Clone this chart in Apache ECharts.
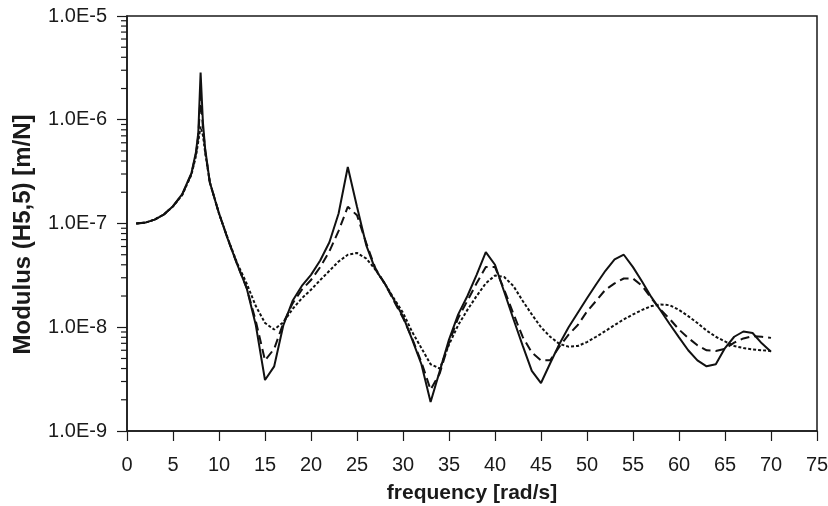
<!DOCTYPE html>
<html><head><meta charset="utf-8">
<script src="https://cdn.jsdelivr.net/npm/echarts@6/dist/echarts.min.js"></script>
<style>html,body{margin:0;padding:0;background:#fff}#c{width:828px;height:506px}</style>
</head><body><div id="c"></div>
<script>
const freq = [1,2,3,4,5,6,7,7.5,7.75,8,8.25,8.5,9,10,11,12,13,14,15,16,17,18,19,20,21,22,23,24,25,26,27,28,29,30,31,32,33,34,35,36,37,38,39,40,41,42,43,44,45,46,47,48,49,50,51,52,53,54,55,56,57,58,59,60,61,62,63,64,65,66,67,68,69,70];

const solid = [1.0e-7,1.02e-7,1.09e-7,1.22e-7,1.47e-7,1.92e-7,3.05e-7,
 4.9e-7,7.5e-7,2.85e-6,9.5e-7,5.2e-7,
 2.5e-7,1.25e-7,6.9e-8,4.0e-8,2.4e-8,1.05e-8,3.1e-9,4.2e-9,1.05e-8,1.8e-8,
 2.5e-8,3.2e-8,4.4e-8,6.6e-8,1.25e-7,3.5e-7,1.45e-7,6.2e-8,3.6e-8,2.65e-8,
 1.85e-8,1.27e-8,7.6e-9,4.4e-9,1.9e-9,3.8e-9,7.6e-9,1.33e-8,2.0e-8,3.2e-8,
 5.3e-8,4.0e-8,2.2e-8,1.2e-8,6.7e-9,3.8e-9,2.9e-9,4.5e-9,6.9e-9,1.0e-8,
 1.38e-8,1.9e-8,2.6e-8,3.5e-8,4.5e-8,5.0e-8,3.8e-8,2.75e-8,1.95e-8,1.45e-8,
 1.07e-8,8.0e-9,6.0e-9,4.8e-9,4.2e-9,4.4e-9,6.3e-9,8.1e-9,9.1e-9,8.8e-9,
 7.0e-9,5.8e-9];

const dashed = [1.0e-7,1.02e-7,1.09e-7,1.22e-7,1.47e-7,1.9e-7,3.0e-7,
 4.7e-7,7.0e-7,1.7e-6,8.5e-7,5.0e-7,
 2.5e-7,1.25e-7,6.9e-8,4.0e-8,2.4e-8,1.15e-8,4.8e-9,6.2e-9,1.1e-8,1.7e-8,
 2.3e-8,2.85e-8,3.8e-8,5.4e-8,8.5e-8,1.45e-7,1.2e-7,6.5e-8,3.7e-8,2.65e-8,
 1.8e-8,1.23e-8,7.8e-9,4.6e-9,2.5e-9,3.6e-9,7.1e-9,1.23e-8,1.8e-8,2.65e-8,
 3.8e-8,3.8e-8,2.3e-8,1.35e-8,8.1e-9,5.7e-9,4.8e-9,4.8e-9,6.5e-9,8.5e-9,
 1.05e-8,1.42e-8,1.8e-8,2.3e-8,2.65e-8,2.95e-8,2.95e-8,2.5e-8,1.9e-8,1.48e-8,
 1.2e-8,9.5e-9,7.9e-9,6.7e-9,6.0e-9,5.9e-9,6.2e-9,7.1e-9,7.8e-9,8.2e-9,
 8.1e-9,7.9e-9];

const dotted = [1.0e-7,1.02e-7,1.09e-7,1.22e-7,1.46e-7,1.88e-7,2.95e-7,
 4.5e-7,6.2e-7,8.6e-7,7.1e-7,4.8e-7,
 2.5e-7,1.25e-7,7.0e-8,4.1e-8,2.65e-8,1.6e-8,1.1e-8,9.5e-9,1.12e-8,1.5e-8,
 1.9e-8,2.3e-8,2.85e-8,3.5e-8,4.3e-8,5.0e-8,5.2e-8,4.6e-8,3.6e-8,2.65e-8,
 1.9e-8,1.38e-8,9.0e-9,6.3e-9,4.4e-9,4.0e-9,6.8e-9,1.05e-8,1.47e-8,2.0e-8,
 2.65e-8,3.15e-8,3.05e-8,2.5e-8,1.8e-8,1.33e-8,1.0e-8,8.1e-9,6.9e-9,6.5e-9,
 6.6e-9,7.2e-9,8.1e-9,9.2e-9,1.05e-8,1.19e-8,1.33e-8,1.47e-8,1.6e-8,1.66e-8,
 1.63e-8,1.47e-8,1.28e-8,1.1e-8,9.3e-9,8.1e-9,7.3e-9,6.6e-9,6.3e-9,6.1e-9,
 6.0e-9,5.9e-9];

const xMin = 0, xMax = 75, xStep = 5;
const yMin = 1e-9, yMax = 1e-5;
const yMinorTicks = [];
for (let e = -9; e < -5; e++) for (let m = 2; m <= 9; m++) yMinorTicks.push(m * Math.pow(10, e));

const FONT = 'Liberation Sans, Arial, sans-serif';
const INK = '#1a1a1a';
const chart = echarts.init(document.getElementById('c'));
const pairs = arr => freq.map((f, i) => [f, arr[i]]);

chart.setOption({
  animation: false,
  backgroundColor: '#fff',
  grid: { left: 127, right: 11, top: 16, bottom: 75, show: true, borderColor: INK, borderWidth: 1.5, containLabel: false, outerBoundsMode: 'none' },
  xAxis: {
    type: 'value', min: xMin, max: xMax, interval: xStep,
    name: 'frequency [rad/s]', nameLocation: 'middle', nameGap: 52,
    nameTextStyle: { fontFamily: FONT, fontSize: 21, fontWeight: 'bold', color: INK },
    axisLine: { show: true, onZero: false, lineStyle: { color: INK, width: 1.5 } },
    axisTick: { show: true, inside: false, length: 10, lineStyle: { color: INK, width: 1.2 } },
    axisLabel: { margin: 24, fontFamily: FONT, fontSize: 20, color: INK },
    splitLine: { show: false }
  },
  yAxis: {
    type: 'log', logBase: 10, min: yMin, max: yMax,
    name: 'Modulus (H5,5) [m/N]', nameLocation: 'middle', nameGap: 92,
    nameTextStyle: { fontFamily: FONT, fontSize: 24, fontWeight: 'bold', color: INK, padding: [0, 22, 0, 0] },
    axisLine: { show: true, lineStyle: { color: INK, width: 1.5 } },
    axisTick: { show: true, inside: false, length: 10, lineStyle: { color: INK, width: 1.2 } },
    axisLabel: { margin: 20, fontFamily: FONT, fontSize: 20, color: INK,
      formatter: v => Number(v).toExponential(1).toUpperCase() },
    splitLine: { show: false }
  },
  series: [
    { type: 'line', data: pairs(solid), showSymbol: false, smooth: false,
      lineStyle: { color: '#111', width: 2, type: 'solid' }, z: 5 },
    { type: 'line', data: pairs(dashed), showSymbol: false, smooth: false,
      lineStyle: { color: '#111', width: 2, type: [9, 5] }, z: 4 },
    { type: 'line', data: pairs(dotted), showSymbol: false, smooth: false,
      lineStyle: { color: '#111', width: 2, type: [3, 2] }, z: 3 },
    { type: 'custom', silent: true, clip: false, z: 6,
      data: yMinorTicks.map(v => [xMin, v]),
      renderItem: (params, api) => {
        const p = api.coord([api.value(0), api.value(1)]);
        return { type: 'line', shape: { x1: p[0] - 6, y1: p[1], x2: p[0], y2: p[1] },
          style: { stroke: INK, lineWidth: 1.2 } };
      } }
  ]
});
</script>
</body></html>
